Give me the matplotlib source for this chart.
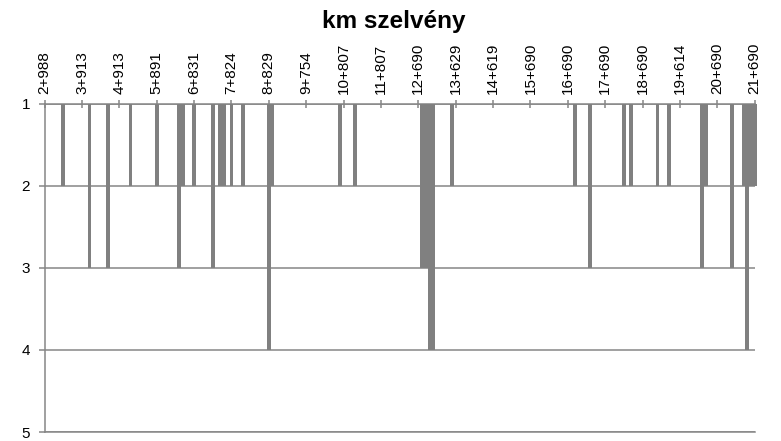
import matplotlib
matplotlib.use("Agg")
import matplotlib.pyplot as plt
import numpy as np

plt.rcParams['font.family'] = ['Liberation Sans', 'DejaVu Sans']

# Category values (one per section), 1 = no bar; rows of 10 sections
values = [
    1, 1, 1, 1, 1, 2, 1, 1, 1, 1,
    1, 1, 3, 1, 1, 1, 1, 3, 1, 1,
    1, 1, 1, 2, 1, 1, 1, 1, 1, 1,
    2, 1, 1, 1, 1, 1, 3, 2, 1, 1,
    2, 1, 1, 1, 1, 3, 1, 2, 2, 1,
    2, 1, 1, 2, 1, 1, 1, 1, 1, 1,
    4, 2, 1, 1, 1, 1, 1, 1, 1, 1,
    1, 1, 1, 1, 1, 1, 1, 1, 1, 2,
    1, 1, 1, 2, 1, 1, 1, 1, 1, 1,
    1, 1, 1, 1, 1, 1, 1, 1, 1, 1,
    1, 3, 3, 4, 4, 1, 1, 1, 1, 2,
    1, 1, 1, 1, 1, 1, 1, 1, 1, 1,
    1, 1, 1, 1, 1, 1, 1, 1, 1, 1,
    1, 1, 1, 1, 1, 1, 1, 1, 1, 1,
    1, 1, 2, 1, 1, 1, 3, 1, 1, 1,
    1, 1, 1, 1, 1, 2, 1, 2, 1, 1,
    1, 1, 1, 1, 2, 1, 1, 2, 1, 1,
    1, 1, 1, 1, 1, 1, 3, 2, 1, 1,
    1, 1, 1, 1, 3, 1, 1, 2, 4, 2,
    2,
]

# labels shown on every 10th category
tick_labels = ['2+988', '3+913', '4+913', '5+891', '6+831', '7+824', '8+829',
               '9+754', '10+807', '11+807', '12+690', '13+629', '14+619',
               '15+690', '16+690', '17+690', '18+690', '19+614', '20+690',
               '21+690']
label_step = 10

y_ticks = [1, 2, 3, 4, 5]

gray = '#868686'
bar_color = '#808080'

fig = plt.figure(figsize=(7.81, 4.41), dpi=100)
ax = fig.add_axes([0.0571, 0.0204, 0.9092, 0.7438])

x = np.arange(len(values))
vals = np.array(values, dtype=float)
bars = ax.bar(x, vals - 1, bottom=1, width=1.0, color=bar_color,
              linewidth=0, zorder=3)
for b in bars:
    b.set_clip_on(False)

ax.set_xlim(0, len(values) - 1)
ax.set_ylim(5, 1)

ax.set_yticks(y_ticks)
ax.set_yticklabels([str(t) for t in y_ticks])
ax.yaxis.grid(True, color=gray, linewidth=1.1)
ax.set_axisbelow(True)

# category axis sits on top (value 1)
ax.xaxis.tick_top()
ax.set_xticks(x[::label_step])
ax.set_xticklabels(tick_labels, rotation=90, fontsize=11)
ax.tick_params(axis='x', direction='inout', length=6, width=1.1,
               color=gray, pad=4.5)
ax.tick_params(axis='y', direction='out', length=4.5, width=1.1,
               color=gray, labelsize=11, pad=6)

ax.spines['right'].set_visible(False)
for side in ['top', 'left', 'bottom']:
    ax.spines[side].set_color(gray)
    ax.spines[side].set_linewidth(1.1)

fig.text(0.5047, 0.936, 'km szelvény', ha='center', va='baseline',
         fontsize=17.5, fontweight='bold')

fig.savefig('out.png', dpi=100)
